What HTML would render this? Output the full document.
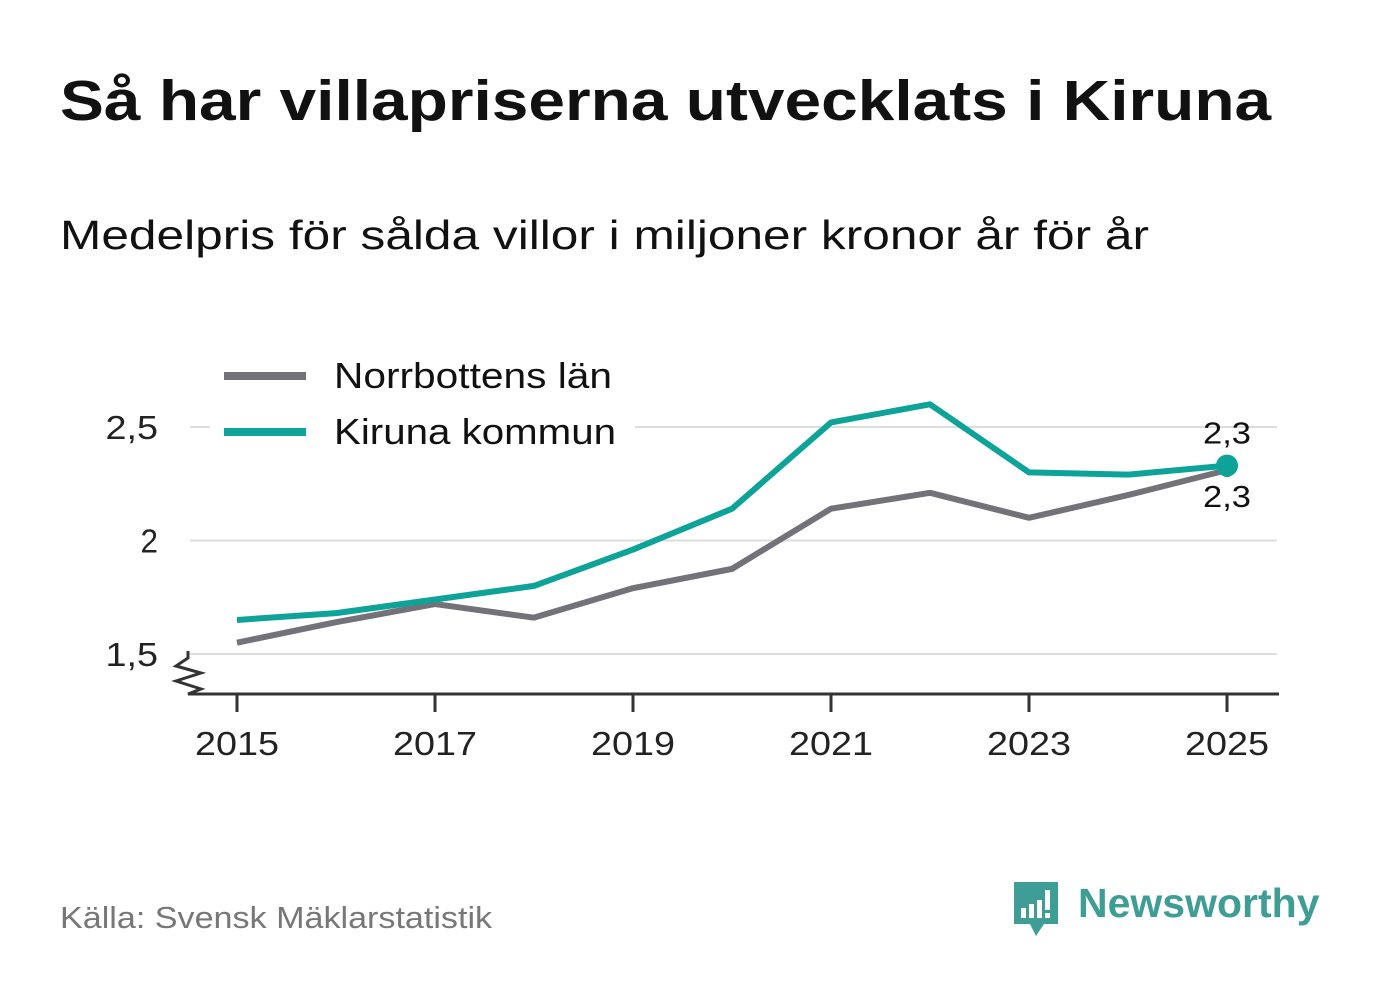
<!DOCTYPE html>
<html><head><meta charset="utf-8"><style>
body{margin:0;width:1382px;height:999px;background:#fff;font-family:"Liberation Sans","DejaVu Sans",sans-serif;overflow:hidden;position:relative}
.t{position:absolute;white-space:nowrap;transform-origin:0 0}
</style></head><body>
<div class="t" style="left:60px;top:68px;font-size:57px;font-weight:bold;color:#111;transform:scaleX(1.155)">Så har villapriserna utvecklats i Kiruna</div>
<div class="t" style="left:60px;top:212px;font-size:41px;color:#111;transform:scaleX(1.21)">Medelpris för sålda villor i miljoner kronor år för år</div>
<svg id="c" width="1382" height="999" style="position:absolute;left:0;top:0"></svg>
<div class="t" style="left:60px;top:900px;font-size:31px;color:#777;transform:scaleX(1.1)">Källa: Svensk Mäklarstatistik</div>
<div style="position:absolute;left:1012px;top:880px">
<svg width="50" height="60" style="position:absolute;left:0;top:0"><path d="M2 2H46V44H32L24 56L18 44H2Z" fill="#3e9e96"/><rect x="9" y="28" width="5" height="10" fill="#fff"/><rect x="17" y="24" width="5" height="14" fill="#fff"/><rect x="25" y="20" width="5" height="18" fill="#fff"/><rect x="33" y="10" width="5" height="20" fill="#fff"/><rect x="33" y="33" width="5" height="5" fill="#fff"/></svg>
<div class="t" style="left:66px;top:0px;font-size:41px;font-weight:bold;color:#3e9e96">Newsworthy</div>
</div>
<script>
const years=[2015,2016,2017,2018,2019,2020,2021,2022,2023,2024,2025];
const norrbotten=[1.55,1.64,1.72,1.66,1.79,1.875,2.14,2.21,2.10,2.20,2.31];
const kiruna=[1.65,1.68,1.74,1.80,1.96,2.14,2.52,2.60,2.30,2.29,2.33];
const yTicks=[1.5,2,2.5];
const yTickLabels=["1,5","2","2,5"];
const xTicks=[2015,2017,2019,2021,2023,2025];
const endLabels=["2,3","2,3"];
const NS="http://www.w3.org/2000/svg";
const svg=document.getElementById('c');
const X=y=>237+(y-2015)*99;
const Y=v=>654-(v-1.5)*227;
function mk(t,a,txt){const e=document.createElementNS(NS,t);for(const k in a)e.setAttribute(k,a[k]);if(txt!=null)e.textContent=txt;svg.appendChild(e);return e;}
yTicks.forEach((v,i)=>{
const g=mk('line',{x1:190,x2:1277,y1:Y(v),y2:Y(v),stroke:'#ddd','stroke-width':2});


const t=mk('text',{x:158,y:Y(v)+12,'text-anchor':'end','font-size':33,fill:'#222',textLength:yTickLabels[i].length*17.5,lengthAdjust:'spacingAndGlyphs'},yTickLabels[i]);


});
const ax=mk('path',{d:'M188 651V658L176 666L201 673L176 681L201 689L188 694H1279',fill:'none',stroke:'#333','stroke-width':3});


xTicks.forEach(y=>{
const l=mk('line',{x1:X(y),x2:X(y),y1:694,y2:712,stroke:'#333','stroke-width':3});


const t=mk('text',{x:X(y),y:755,'text-anchor':'middle','font-size':33,fill:'#222',textLength:84,lengthAdjust:'spacingAndGlyphs'},String(y));


});
const bg=mk('rect',{x:210,y:350,width:425,height:110,fill:'#fff'});


function series(vals,col,name){
const p=mk('polyline',{points:vals.map((v,i)=>X(years[i])+','+Y(v)).join(' '),fill:'none',stroke:col,'stroke-width':6,'stroke-linejoin':'round'});


const n=vals.length-1;
const c=mk('circle',{cx:X(years[n]),cy:Y(vals[n]),r:col==='#0da399'?11:7,fill:col});


}
series(norrbotten,'#747279','line-norrbotten');
series(kiruna,'#0da399','line-kiruna');
const n=years.length-1;
const l1=mk('text',{x:X(years[n]),y:Y(kiruna[n])-22,'text-anchor':'middle','font-size':31,fill:'#111',textLength:48,lengthAdjust:'spacingAndGlyphs'},endLabels[0]);


const l2=mk('text',{x:X(years[n]),y:Y(norrbotten[n])+37,'text-anchor':'middle','font-size':31,fill:'#111',textLength:48,lengthAdjust:'spacingAndGlyphs'},endLabels[1]);


[['Norrbottens län','#747279',376,278],['Kiruna kommun','#0da399',432,282]].forEach(([t,c,y,w])=>{
const ln=mk('line',{x1:224,x2:306,y1:y,y2:y,stroke:c,'stroke-width':8});


const tx=mk('text',{x:334,y:y+12,'font-size':36,fill:'#111',textLength:w,lengthAdjust:'spacingAndGlyphs'},t);


});
</script>
</body></html>
